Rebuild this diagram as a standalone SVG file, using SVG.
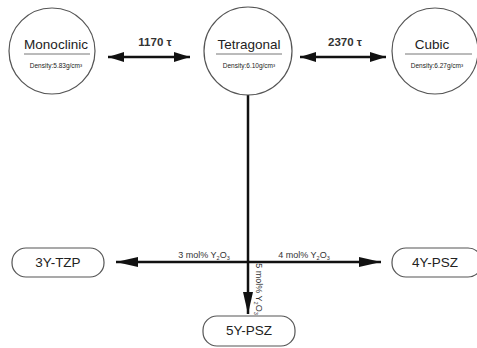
<svg xmlns="http://www.w3.org/2000/svg" width="477" height="348" viewBox="0 0 477 348">
<defs>
<style>
.c{fill:#fff;stroke:#555;stroke-width:1.2}
.b{fill:#fff;stroke:#555;stroke-width:1.2}
.t{font-family:"Liberation Sans",Arial,sans-serif;fill:#222;text-anchor:middle}
.n{font-size:13.5px}
.d{font-size:6.5px}
.u{stroke:#777;stroke-width:1}
.l{font-size:11.5px;font-weight:bold;fill:#333}
.s{font-size:9px;fill:#333}
.ln{stroke:#111;stroke-width:2.5;fill:none}
</style>
<marker id="ah" viewBox="0 0 22 10" refX="22" refY="5" markerWidth="22" markerHeight="10" markerUnits="userSpaceOnUse" orient="auto-start-reverse">
<path d="M0,0 L22,5 L0,10 z" fill="#111"/>
</marker>
<marker id="as" viewBox="0 0 16 10" refX="16" refY="5" markerWidth="16" markerHeight="10" markerUnits="userSpaceOnUse" orient="auto-start-reverse">
<path d="M0,0 L16,5 L0,10 z" fill="#111"/>
</marker>
</defs>
<rect width="477" height="348" fill="#fff"/>
<g id="connectors">
<line class="ln" x1="108" y1="57" x2="190" y2="57" marker-start="url(#as)" marker-end="url(#as)"/>
<line class="ln" x1="300" y1="57" x2="386" y2="57" marker-start="url(#as)" marker-end="url(#as)"/>
<line class="ln" x1="248" y1="94" x2="248" y2="314" marker-end="url(#ah)"/>
<line class="ln" x1="248" y1="262" x2="116" y2="262" marker-end="url(#ah)"/>
<line class="ln" x1="248" y1="262" x2="381" y2="262" marker-end="url(#ah)"/>
<text class="t l" x="155" y="46">1170 τ</text>
<text class="t l" x="345" y="46">2370 τ</text>
<text class="t s" x="204" y="258">3 mol% Y<tspan font-size="5.5" dy="2">2</tspan><tspan dy="-2">O</tspan><tspan font-size="5.5" dy="2">3</tspan></text>
<text class="t s" x="304" y="258">4 mol% Y<tspan font-size="5.5" dy="2">2</tspan><tspan dy="-2">O</tspan><tspan font-size="5.5" dy="2">3</tspan></text>
<text class="t s" transform="translate(256,289) rotate(90)">5 mol% Y<tspan font-size="5.5" dy="2">2</tspan><tspan dy="-2">O</tspan><tspan font-size="5.5" dy="2">3</tspan></text>
</g>
<g id="monoclinic">
<circle class="c" cx="52" cy="51" r="43"/>
<text class="t n" x="56" y="49">Monoclinic</text>
<line class="u" x1="24" y1="54" x2="90" y2="54"/>
<text class="t d" x="56" y="68">Density:5.83g/cm³</text>
</g>
<g id="tetragonal">
<circle class="c" cx="248" cy="51" r="44"/>
<text class="t n" x="249" y="49">Tetragonal</text>
<line class="u" x1="216" y1="54" x2="282" y2="54"/>
<text class="t d" x="249" y="68">Density:6.10g/cm³</text>
</g>
<g id="cubic">
<circle class="c" cx="435" cy="51" r="43"/>
<text class="t n" x="432" y="49">Cubic</text>
<line class="u" x1="405" y1="54" x2="472" y2="54"/>
<text class="t d" x="437" y="68">Density:6.27g/cm³</text>
</g>
<g id="tzp3">
<rect class="b" x="12" y="248" width="92" height="29" rx="14"/>
<text class="t n" x="58" y="267">3Y-TZP</text>
</g>
<g id="psz4">
<rect class="b" x="392" y="248" width="90" height="29" rx="14"/>
<text class="t n" x="435" y="267">4Y-PSZ</text>
</g>
<g id="psz5">
<rect class="b" x="203" y="316" width="92" height="30" rx="14"/>
<text class="t n" x="249" y="335">5Y-PSZ</text>
</g>
</svg>
